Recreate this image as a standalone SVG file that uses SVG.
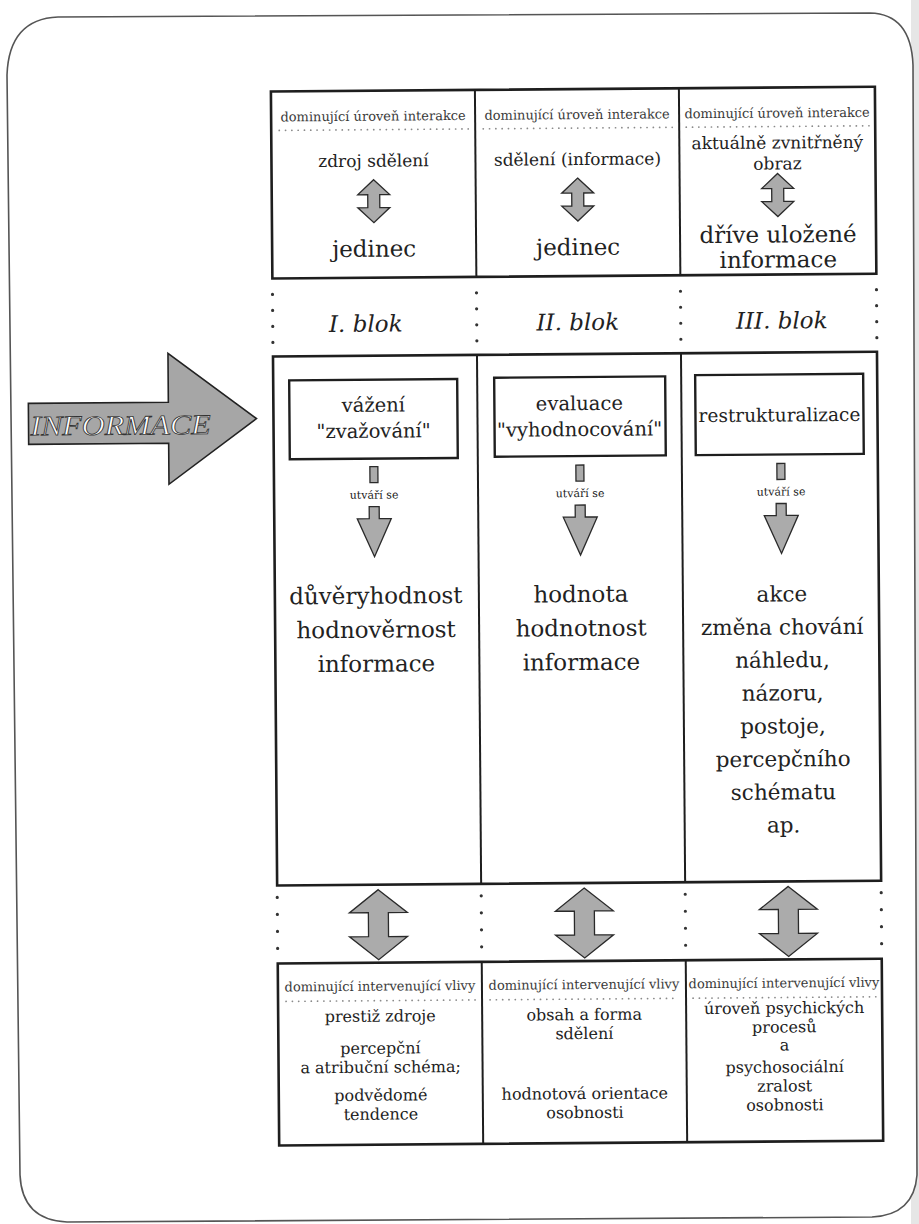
<svg xmlns="http://www.w3.org/2000/svg" xmlns:xlink="http://www.w3.org/1999/xlink" width="919" height="1224" viewBox="0 0 919 1224">
<style>
.box{fill:none;stroke:#1e1e1e;stroke-width:2.6}
.div{stroke:#1e1e1e;stroke-width:2}
.inner{fill:#fff;stroke:#1e1e1e;stroke-width:2.4}
.s{font-family:"DejaVu Serif","Liberation Serif",serif;fill:#222;text-anchor:middle}
.hdr{font-size:13px;fill:#3a3a3a}
.t17{font-size:17px}
.t16{font-size:16px}
.t19{font-size:19.5px}
.t23{font-size:23px}
.t21{font-size:21.5px}
.blk{font-size:23px;font-style:italic}
.ut{font-size:11px}
.arr{fill:#ababab;stroke:#2a2a2a;stroke-width:1.3;stroke-linejoin:miter}
.dl{stroke:#8a8a8a;stroke-width:1.7;stroke-dasharray:0.1 6.2;stroke-linecap:round;fill:none}
.dot{fill:#333}
</style>
<defs>
<path id="dbl-s" d="M0,0 L16,15 L6,15 L6,28 L16,28 L0,43 L-16,28 L-6,28 L-6,15 L-16,15 Z"/>
<path id="dbl-b" d="M0,0 L29,23 L10,23 L10,47 L29,47 L0,70 L-29,47 L-10,47 L-10,23 L-29,23 Z"/>
<path id="down" d="M-5,0 L5,0 L5,12 L17,12 L0,50 L-17,12 L-5,12 Z"/>
<rect id="stem" x="-4" y="0" width="8" height="16"/>
</defs>
<rect width="919" height="1224" fill="#fff"/>
<rect x="911" y="0" width="8" height="1224" fill="#e6e6e6"/>
<path id="frame" d="M7,75 Q9,19 58,17 L870,13 Q911,14 913,65 L917,1175 Q914,1215 872,1217 L67,1222 Q22,1220 20,1175 Z" fill="#fff" stroke="#555" stroke-width="1.6"/>
<g transform="rotate(-0.45 460 612)">
<g id="top-box">
<rect class="box" x="275" y="90" width="604" height="187"/>
<line class="div" x1="479" y1="90" x2="479" y2="277"/>
<line class="div" x1="683" y1="90" x2="683" y2="277"/>
<g class="s hdr">
<text x="377" y="120">dominující úroveň interakce</text>
<text x="581" y="120">dominující úroveň interakce</text>
<text x="781" y="120">dominující úroveň interakce</text>
</g>
<line class="dl" x1="283" y1="129" x2="472" y2="129"/>
<line class="dl" x1="487" y1="129" x2="676" y2="129"/>
<line class="dl" x1="690" y1="129" x2="873" y2="129"/>
<g class="s t17">
<text x="377" y="166">zdroj sdělení</text>
<text x="581" y="166">sdělení (informace)</text>
<text x="781" y="151">aktuálně zvnitřněný</text>
<text x="781" y="172">obraz</text>
</g>
<g class="s t23">
<text x="377" y="256">jedinec</text>
<text x="581" y="256">jedinec</text>
<text x="781" y="245">dříve uložené</text>
<text x="781" y="270">informace</text>
</g>
</g>
<g id="block-labels" class="s blk">
<text x="368" y="331">I. blok</text>
<text x="580" y="331">II. blok</text>
<text x="784" y="331">III. blok</text>
</g>
<g id="main-box">
<rect class="box" x="275" y="355" width="604" height="529"/>
<line class="div" x1="479" y1="355" x2="479" y2="884"/>
<line class="div" x1="683" y1="355" x2="683" y2="884"/>
</g>
<g id="node-vazeni">
<rect class="inner" x="291" y="379" width="168" height="79"/>
<text class="s t19" x="375" y="411">vážení</text>
<text class="s t19" x="375" y="437">"zvažování"</text>
</g>
<g id="node-evaluace">
<rect class="inner" x="496" y="378" width="171" height="79"/>
<text class="s t19" x="581" y="411">evaluace</text>
<text class="s t19" x="581" y="437">"vyhodnocování"</text>
</g>
<g id="node-restrukturalizace">
<rect class="inner" x="697" y="377" width="168" height="80"/>
<text class="s" style="font-size:18.5px" x="781" y="424">restrukturalizace</text>
</g>
<g id="node-result-1" class="s t23">
<text x="376" y="603">důvěryhodnost</text>
<text x="376" y="637">hodnověrnost</text>
<text x="376" y="671">informace</text>
</g>
<g id="node-result-2" class="s t23">
<text x="581" y="603">hodnota</text>
<text x="581" y="637">hodnotnost</text>
<text x="581" y="671">informace</text>
</g>
<g id="node-result-3" class="s t21">
<text x="782" y="604">akce</text>
<text x="782" y="637">změna chování</text>
<text x="782" y="670">náhledu,</text>
<text x="782" y="703">názoru,</text>
<text x="782" y="736">postoje,</text>
<text x="782" y="769">percepčního</text>
<text x="782" y="802">schématu</text>
<text x="782" y="835">ap.</text>
</g>
<g id="bottom-box">
<rect class="box" x="275" y="962" width="604" height="182"/>
<line class="div" x1="479" y1="962" x2="479" y2="1144"/>
<line class="div" x1="683" y1="962" x2="683" y2="1144"/>
<g class="s hdr">
<text x="377" y="990">dominující intervenující vlivy</text>
<text x="581" y="990">dominující intervenující vlivy</text>
<text x="781" y="990">dominující intervenující vlivy</text>
</g>
<line class="dl" x1="283" y1="1000" x2="472" y2="1000"/>
<line class="dl" x1="487" y1="1000" x2="676" y2="1000"/>
<line class="dl" x1="690" y1="1000" x2="873" y2="1000"/>
<g class="s t16">
<text x="377" y="1021">prestiž zdroje</text>
<text x="377" y="1053">percepční</text>
<text x="377" y="1072">a atribuční schéma;</text>
<text x="377" y="1100">podvědomé</text>
<text x="377" y="1119">tendence</text>
<text x="581" y="1021">obsah a forma</text>
<text x="581" y="1040">sdělení</text>
<text x="581" y="1100">hodnotová orientace</text>
<text x="581" y="1119">osobnosti</text>
<text x="781" y="1016">úroveň psychických</text>
<text x="781" y="1035">procesů</text>
<text x="781" y="1053">a</text>
<text x="781" y="1075">psychosociální</text>
<text x="781" y="1094">zralost</text>
<text x="781" y="1113">osobnosti</text>
</g>
</g>
<g id="info-arrow">
<path class="arr" style="fill:#a6a6a6;stroke:#222;stroke-width:1.6" d="M30,400 L170,400 L170,351 L258,417 L170,482 L170,441 L30,441 Z"/>
<text x="122" y="432" font-family="Liberation Serif, serif" font-style="italic" font-size="28" fill="#fff" stroke="#333" stroke-width="0.8" text-anchor="middle" textLength="180" lengthAdjust="spacingAndGlyphs">INFORMACE</text>
</g>
<g id="connectors">
<g class="arr">
<use xlink:href="#dbl-s" href="#dbl-s" x="377" y="179"/>
<use xlink:href="#dbl-s" href="#dbl-s" x="581" y="179"/>
<use xlink:href="#dbl-s" href="#dbl-s" x="781" y="176"/>
<use xlink:href="#stem" href="#stem" x="375" y="466"/>
<use xlink:href="#stem" href="#stem" x="581" y="466"/>
<use xlink:href="#stem" href="#stem" x="782" y="466"/>
<use xlink:href="#down" href="#down" x="375" y="506"/>
<use xlink:href="#down" href="#down" x="581" y="506"/>
<use xlink:href="#down" href="#down" x="782" y="506"/>
<use xlink:href="#dbl-b" href="#dbl-b" x="376" y="889"/>
<use xlink:href="#dbl-b" href="#dbl-b" x="582" y="889"/>
<use xlink:href="#dbl-b" href="#dbl-b" x="786" y="889"/>
</g>
<g class="s ut">
<text x="375" y="498">utváří se</text>
<text x="581" y="498">utváří se</text>
<text x="782" y="498">utváří se</text>
</g>
<g class="dot">
<circle cx="275" cy="293" r="1.6"/><circle cx="275" cy="309" r="1.6"/><circle cx="275" cy="325" r="1.6"/><circle cx="275" cy="341" r="1.6"/>
<circle cx="479" cy="293" r="1.6"/><circle cx="479" cy="309" r="1.6"/><circle cx="479" cy="325" r="1.6"/><circle cx="479" cy="341" r="1.6"/>
<circle cx="683" cy="293" r="1.6"/><circle cx="683" cy="309" r="1.6"/><circle cx="683" cy="325" r="1.6"/><circle cx="683" cy="341" r="1.6"/>
<circle cx="879" cy="293" r="1.6"/><circle cx="879" cy="309" r="1.6"/><circle cx="879" cy="325" r="1.6"/><circle cx="879" cy="341" r="1.6"/>
<circle cx="275" cy="896" r="1.6"/><circle cx="275" cy="913" r="1.6"/><circle cx="275" cy="930" r="1.6"/><circle cx="275" cy="947" r="1.6"/>
<circle cx="479" cy="896" r="1.6"/><circle cx="479" cy="913" r="1.6"/><circle cx="479" cy="930" r="1.6"/><circle cx="479" cy="947" r="1.6"/>
<circle cx="683" cy="896" r="1.6"/><circle cx="683" cy="913" r="1.6"/><circle cx="683" cy="930" r="1.6"/><circle cx="683" cy="947" r="1.6"/>
<circle cx="879" cy="896" r="1.6"/><circle cx="879" cy="913" r="1.6"/><circle cx="879" cy="930" r="1.6"/><circle cx="879" cy="947" r="1.6"/>
</g>
</g>
</g>
</svg>
